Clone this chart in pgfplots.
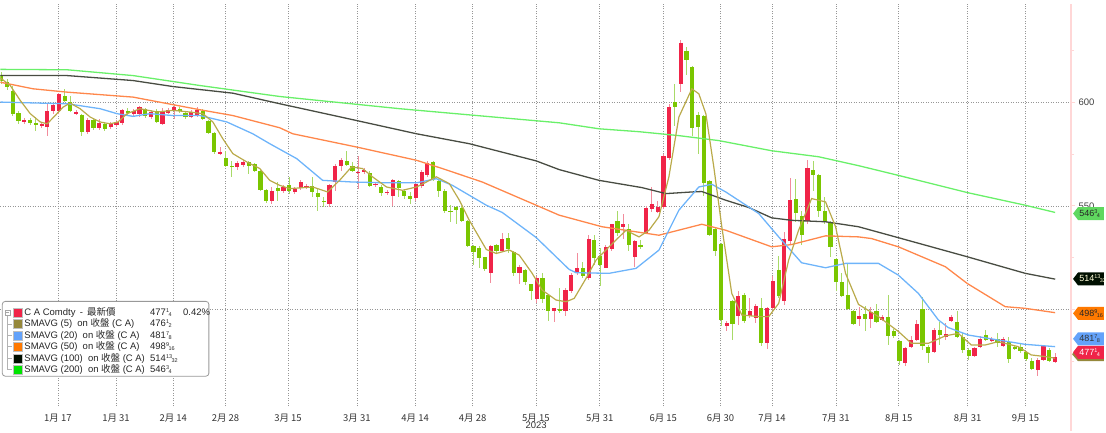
\documentclass[border=0pt]{standalone}
\usepackage{fontspec}
\setmainfont{Liberation Sans}
\newfontfamily\cjk{Noto Sans CJK TC}
\usepackage{pgfplots}
\usepackage{pgfplotstable}
\pgfplotsset{compat=1.18}

\definecolor{upbody}{RGB}{240,36,72}
\definecolor{upwick}{RGB}{242,140,156}
\definecolor{dnbody}{RGB}{122,198,0}
\definecolor{dnwick}{RGB}{168,218,104}
\definecolor{ma5}{RGB}{186,170,74}
\definecolor{ma20}{RGB}{110,180,250}
\definecolor{ma50}{RGB}{255,135,75}
\definecolor{ma100}{RGB}{72,76,66}
\definecolor{ma200}{RGB}{105,240,105}
\definecolor{gridc}{RGB}{150,150,150}
\definecolor{axisc}{RGB}{255,215,215}

% small stacked fraction, as in the quoted prices
\newcommand\fr[2]{\raisebox{0.6ex}{\fontsize{5.5}{5}\selectfont#1}\kern-0.05em\raisebox{-0.2ex}{\fontsize{5.5}{5}\selectfont#2}}

% daily candles: open high low close
\pgfplotstableread{
k o h l c
1 613.3 614.7 608.9 610.4
2 609.9 611.3 606.0 607.5
3 605.5 608.0 593.5 594.5
4 594.9 595.9 589.6 591.1
5 590.6 592.5 589.6 591.6
6 591.6 592.5 589.2 590.1
7 590.1 593.0 586.3 589.2
8 588.7 590.6 587.7 589.6
9 588.2 599.3 583.9 595.9
10 595.9 599.8 594.5 598.8
11 595.9 604.6 594.5 604.1
12 603.1 606.5 600.2 600.7
13 600.2 603.1 595.4 595.9
14 594.5 596.4 594.0 595.4
15 594.0 594.5 583.9 585.8
16 585.8 592.5 584.8 591.6
17 591.6 592.5 586.7 587.7
18 587.7 592.1 586.7 590.1
19 589.6 590.6 586.3 587.2
20 588.2 590.6 587.2 589.6
21 589.2 591.6 588.2 590.6
22 590.1 596.9 589.2 596.4
23 595.9 597.4 593.5 594.9
24 594.5 596.9 593.5 595.9
25 594.5 598.3 593.0 597.8
26 596.9 597.4 592.5 593.5
27 593.0 596.4 592.1 595.4
28 595.9 596.9 590.1 590.6
29 589.6 597.4 589.2 595.9
30 594.9 597.4 594.5 596.4
31 595.9 599.3 592.1 597.8
32 596.9 597.8 594.9 595.9
33 594.9 595.9 592.1 593.0
34 593.0 596.4 592.5 595.4
35 594.0 597.8 593.0 596.4
36 595.9 596.9 591.6 592.1
37 591.1 591.6 584.8 585.3
38 585.3 585.8 575.2 576.1
39 575.2 578.6 574.7 576.1
40 573.3 576.6 568.9 569.4
41 569.4 571.8 564.1 568.9
42 568.9 571.8 567.5 570.8
43 569.9 572.3 568.9 571.3
44 571.3 571.8 565.5 569.4
45 570.4 570.8 566.5 567.0
46 567.0 567.5 557.4 557.8
47 557.8 558.3 551.6 552.5
48 552.5 559.3 551.1 557.4
49 558.8 561.7 552.5 557.4
50 557.4 560.2 556.4 559.3
51 560.2 564.1 555.9 557.4
52 556.9 559.3 555.9 558.3
53 558.8 562.7 557.8 561.7
54 559.3 560.7 558.3 559.8
55 559.8 564.1 554.5 556.9
56 556.4 558.3 547.7 554.5
57 552.5 554.5 549.6 552.1
58 551.1 560.7 549.6 560.2
59 561.7 570.4 557.4 569.4
60 569.4 573.3 567.0 572.3
61 571.8 576.6 569.4 569.9
62 569.4 571.3 566.5 567.0
63 566.0 574.2 558.3 566.5
64 566.5 568.4 565.5 567.5
65 566.0 567.0 559.3 559.8
66 560.2 561.7 559.3 560.7
67 559.3 560.2 554.9 556.4
68 556.4 557.8 555.4 556.9
69 554.9 563.1 550.1 562.7
70 562.2 562.7 554.5 558.8
71 557.4 558.3 553.5 554.9
72 554.9 556.9 551.1 553.5
73 554.0 561.7 552.1 560.7
74 559.8 567.5 558.8 566.5
75 565.1 571.8 564.1 570.8
76 571.3 571.8 562.2 563.1
77 562.2 563.1 554.5 557.4
78 557.4 557.9 546.7 547.7
79 547.7 550.6 542.4 547.2
80 549.6 550.1 541.4 548.2
81 549.2 550.1 542.4 542.9
82 542.9 543.4 529.9 530.4
83 530.4 530.9 521.2 527.5
84 529.4 530.4 520.2 524.6
85 525.1 525.5 518.3 519.3
86 517.8 530.9 512.5 530.4
87 530.9 531.8 527.0 528.0
88 528.0 537.1 527.5 534.2
89 534.7 537.1 527.0 529.4
90 527.5 528.0 515.9 517.8
91 517.8 521.2 512.1 520.7
92 518.8 519.3 511.6 513.0
93 512.1 512.5 504.3 508.7
94 504.8 515.9 502.9 515.0
95 515.0 517.8 502.9 504.8
96 506.8 507.3 494.2 499.0
97 499.0 500.8 493.7 500.5
98 500.0 510.1 498.1 499.5
99 499.0 510.1 496.6 509.2
100 508.7 517.4 507.7 516.4
101 517.4 527.0 516.4 519.8
102 519.8 523.1 515.0 515.9
103 515.0 535.7 514.0 534.2
104 533.7 536.1 521.2 524.6
105 526.0 529.4 511.1 521.2
106 520.2 530.9 519.8 529.9
107 529.4 541.4 528.4 541.0
108 542.9 547.7 535.2 537.1
109 540.0 546.3 534.2 541.0
110 538.6 541.4 528.0 530.9
111 525.5 533.3 520.7 532.8
112 531.3 533.7 529.4 530.4
113 537.1 550.1 536.6 549.2
114 548.7 559.3 547.2 551.1
115 547.2 552.1 546.3 549.6
116 549.6 575.2 548.7 574.2
117 573.3 599.3 572.3 597.8
118 600.2 608.9 588.7 597.8
119 608.9 630.1 605.1 628.7
120 624.8 626.7 613.3 620.5
121 617.1 617.6 583.9 587.7
122 594.0 595.4 575.2 588.2
123 593.5 594.0 554.9 561.2
124 562.2 562.7 535.2 536.1
125 539.0 539.5 526.0 528.4
126 531.8 532.3 491.8 494.7
127 491.8 494.2 489.4 493.3
128 503.9 504.3 485.1 492.8
129 496.6 508.7 492.3 506.3
130 506.8 507.7 493.3 494.2
131 496.6 505.3 495.7 499.0
132 495.7 502.4 493.3 501.4
133 500.5 505.3 482.2 483.6
134 483.6 501.0 480.7 500.5
135 500.5 515.9 499.5 513.5
136 518.8 526.0 505.3 506.3
137 503.9 537.6 501.9 534.2
138 532.8 563.6 531.8 553.0
139 553.5 563.1 542.4 546.3
140 545.3 547.7 530.9 535.7
141 542.9 572.3 541.4 568.4
142 567.5 571.8 557.4 565.1
143 565.1 565.5 544.8 547.7
144 547.7 554.5 541.4 542.4
145 542.4 542.9 525.5 529.9
146 524.1 524.6 508.7 513.0
147 513.0 517.4 505.8 506.3
148 506.8 522.2 499.5 500.0
149 499.0 499.5 492.3 492.8
150 495.2 501.0 491.8 496.6
151 497.6 501.4 489.4 495.2
152 495.2 501.0 490.9 498.6
153 499.0 502.4 493.3 493.7
154 494.7 497.1 494.2 496.1
155 496.1 506.8 482.7 487.0
156 489.4 490.4 486.0 487.0
157 484.6 485.1 473.0 475.0
158 474.0 481.7 472.5 481.2
159 481.7 487.0 481.2 485.1
160 485.1 494.7 484.6 492.8
161 500.0 505.8 480.3 482.2
162 481.7 482.7 474.0 478.8
163 479.3 490.9 478.8 489.9
164 489.9 493.7 482.7 487.5
165 486.5 493.3 485.1 488.0
166 494.2 497.1 493.7 496.1
167 493.7 499.0 486.0 486.5
168 486.5 488.4 478.8 480.3
169 480.3 481.2 475.4 477.4
170 477.4 481.7 476.9 481.2
171 481.7 487.0 481.2 485.6
172 487.5 489.9 484.6 485.1
173 484.6 486.5 484.1 485.6
174 485.6 488.4 481.7 483.6
175 482.2 486.5 481.7 485.6
176 484.1 486.5 474.0 475.9
177 481.7 482.2 480.3 480.7
178 481.7 483.6 478.8 479.8
179 479.3 479.8 475.0 475.9
180 475.0 476.4 470.6 471.1
181 470.6 476.4 467.7 475.4
182 475.4 482.7 475.0 482.2
183 480.3 481.2 474.5 475.0
184 474.5 478.8 474.0 476.9
}\candles

\pgfplotstableread{
k v
0.83 611.8
2.56 608.1
4.29 600.9
6.03 594.5
7.76 590.5
8.97 589.6
10.36 593.6
11.75 597.7
12.96 599.6
14.69 596.9
16.42 592.9
18.16 590.5
19.89 589.6
21.28 590.5
22.84 594.5
25.09 596.9
28.04 595.3
30.81 596.1
33.76 595.3
36.01 594.5
37.74 590.5
39.47 582.4
41.21 575.2
43.63 571.2
45.89 568.0
47.62 562.3
49.35 559.9
51.09 558.3
55.07 559.1
57.67 556.7
59.75 562.3
61.83 568.8
63.74 568.0
65.47 564.0
67.90 559.1
70.67 557.5
73.10 559.1
74.83 561.5
76.56 564.0
78.82 560.7
80.55 552.7
82.28 543.0
85.23 528.9
86.96 527.0
89.21 528.7
90.95 526.2
93.20 517.4
94.93 509.3
97.36 504.5
99.09 503.7
100.5 505.3
102.56 515.0
104.29 523.8
106.55 530.2
109.49 538.2
111.75 535.0
113.48 538.2
115.21 544.7
116.94 564.0
118.68 592.9
120.93 606.5
122.14 604.1
123.36 594.5
124.74 568.8
126.13 539.9
127.86 507.7
129.60 497.3
132.54 496.5
134.27 496.5
136.01 502.9
137.74 523.8
139.47 538.2
141.73 553.5
144.15 551.9
145.89 539.9
147.62 517.4
149.87 502.4
153.34 496.5
156.81 489.3
159.06 483.6
162.01 483.6
164.95 487.2
167.20 488.4
169.46 482.8
171.88 482.8
174.14 484.4
177.60 482.0
179.86 478.0
182.28 477.2
184.02 476.4
}\smafive

\pgfplotstableread{
k v
0.83 600.1
7.76 599.6
12.44 599.3
18.16 596.9
21.10 594.5
23.88 593.2
26.82 594.5
30.81 593.6
35.49 593.6
40.17 590.5
44.67 584.8
47.62 580.0
52.30 572.8
56.81 562.3
62.00 561.5
67.90 561.1
73.10 561.1
76.56 563.1
79.34 559.9
82.28 555.1
85.23 550.3
88.00 546.8
93.89 534.7
99.61 519.3
100.83 517.7
106.55 517.4
111.23 519.8
115.21 528.6
118.68 547.9
122.14 559.1
124.40 560.4
126.82 556.7
132.54 546.3
136.01 535.0
139.99 522.5
144.15 520.1
147.62 522.2
153.34 522.2
156.81 516.5
160.27 507.7
163.74 494.9
165.47 491.2
168.94 487.6
174.14 485.2
178.82 483.1
184.02 482.0
}\smatwenty

\pgfplotstableread{
k v
0.83 609.7
6.55 606.5
12.44 604.9
23.88 602.5
35.49 596.4
41.21 593.6
49.35 587.7
51.61 584.8
62.70 578.4
73.10 572.0
77.60 568.0
84.53 561.5
93.89 550.3
97.88 545.5
105.33 539.9
115.21 535.8
122.66 541.1
126.82 538.2
134.79 530.2
138.26 531.3
144.15 535.5
149.87 535.0
152.13 534.2
156.81 530.2
164.95 520.6
168.76 512.5
175.35 501.3
178.82 500.5
184.02 498.4
}\smafifty

\pgfplotstableread{
k v
0.83 612.9
12.44 612.9
23.88 610.5
30.81 607.6
41.21 604.4
49.35 599.3
59.75 593.0
73.10 584.8
82.28 580.0
93.89 571.7
97.88 567.5
104.81 562.3
112.27 558.8
116.42 555.9
120.93 556.7
122.66 556.9
126.82 552.7
130.81 549.2
134.79 544.2
138.26 543.0
144.15 542.3
149.87 539.9
156.81 534.6
168.76 525.4
178.82 517.4
184.02 514.6
}\smahundred

\pgfplotstableread{
k v
0.83 615.9
12.44 615.7
23.88 612.9
35.49 608.1
49.35 602.8
70.2 596.9
84.0 593.5
97.88 590.1
104.81 587.2
111.75 585.8
118.68 583.9
125.61 581.5
134.79 576.6
142.94 573.7
149.87 569.4
156.81 564.7
168.76 556.4
178.82 550.3
184.02 546.8
}\smatwohundred

\begin{document}
\begin{tikzpicture}[x=1pt,y=1pt]
\begin{axis}[
  at={(0,0)}, anchor=south west,
  width=1073pt, height=403pt, scale only axis,
  xmin=0.827, xmax=186.79, ymin=453.26, ymax=647.47,
  axis line style={draw=none},
  xtick={10.83,20.93,30.86,39.94,50.79,62.75,72.87,82.85,93.84,104.93,115.96,125.90,134.85,145.94,156.86,168.82,178.87},
  xticklabels={1月 17,1月 31,2月 14,2月 28,3月 15,3月 31,4月 14,4月 28,5月 15,5月 31,6月 15,6月 30,7月 14,7月 31,8月 15,8月 31,9月 15},
  xtick style={draw=none},
  xticklabel style={font=\cjk\fontsize{9.5}{10}\selectfont, text=black!80},
  ytick={500,550,600}, yticklabels={{},550,600},
  minor ytick={475,525,575,625},
  ytick pos=right, yticklabel pos=right,
  ytick style={draw=axisc, line width=1pt},
  tick align=outside, major tick length=4pt, minor tick length=3pt,
  yticklabel style={font=\fontsize{9.5}{10}\selectfont, text=black!75},
  /pgf/number format/assume math mode=true,
  grid=major,
  major grid style={draw=gridc, line width=0.6pt, dash pattern=on 1pt off 1.5pt},
  candle/.style={draw=none, mark=none, forget plot},
]
% wicks
\addplot[candle,
  restrict expr to domain={\thisrow{c}-\thisrow{o}}{0:1000},
  error bars/.cd, y dir=both, y explicit, error mark=none,
  error bar style={line width=1pt, draw=upwick}]
  table[x=k, y expr={(\thisrow{h}+\thisrow{l})/2}, y error expr={(\thisrow{h}-\thisrow{l})/2}] {\candles};
\addplot[candle,
  restrict expr to domain={\thisrow{o}-\thisrow{c}}{0:1000},
  error bars/.cd, y dir=both, y explicit, error mark=none,
  error bar style={line width=1pt, draw=dnwick}]
  table[x=k, y expr={(\thisrow{h}+\thisrow{l})/2}, y error expr={(\thisrow{h}-\thisrow{l})/2}] {\candles};
% bodies
\addplot[candle,
  restrict expr to domain={\thisrow{c}-\thisrow{o}}{0:1000},
  error bars/.cd, y dir=both, y explicit, error mark=none,
  error bar style={line width=4.2pt, draw=upbody}]
  table[x=k, y expr={(\thisrow{o}+\thisrow{c})/2}, y error expr={abs(\thisrow{c}-\thisrow{o})/2}] {\candles};
\addplot[candle,
  restrict expr to domain={\thisrow{o}-\thisrow{c}}{0:1000},
  error bars/.cd, y dir=both, y explicit, error mark=none,
  error bar style={line width=4.2pt, draw=dnbody}]
  table[x=k, y expr={(\thisrow{o}+\thisrow{c})/2}, y error expr={abs(\thisrow{c}-\thisrow{o})/2}] {\candles};
% moving averages
\addplot[ma200, line width=1.3pt, no markers] table[x=k, y=v] {\smatwohundred};
\addplot[ma100, line width=1.3pt, no markers] table[x=k, y=v] {\smahundred};
\addplot[ma50, line width=1.3pt, no markers] table[x=k, y=v] {\smafifty};
\addplot[ma20, line width=1.3pt, no markers] table[x=k, y=v] {\smatwenty};
\addplot[ma5, line width=1.2pt, no markers] table[x=k, y=v] {\smafive};
\end{axis}

% right axis line
\draw[axisc, line width=2pt] (1073,-25) -- (1073,403);
\node[font=\fontsize{9.5}{10}\selectfont, text=black!80] at (537,-19) {2023};

% price tags on the right
\def\tag#1#2#3#4{%
  \fill[#2] (1075,#1) -- (1080,#1+6.5) -- (1105.8,#1+6.5) -- (1105.8,#1-6.5) -- (1080,#1-6.5) -- cycle;
  \node[font=\fontsize{9}{10}\selectfont, text=#3, anchor=west, inner sep=0pt] at (1081,#1) {#4};}
\tag{193}{ma200!90!black}{black!85}{546\fr34}
\tag{127.5}{black!85!green!40!black}{white!85!yellow}{514\fr{13}{32}}
\tag{93}{orange!95!red}{black!85}{498\fr{9}{16}}
\tag{67.5}{ma20!90!blue}{black!80}{481\fr78}
\fill[ma5!80!black] (1074,52) -- (1080,59) -- (1105.8,59) -- (1105.8,45) -- (1080,45) -- cycle;
\tag{54}{upbody}{white}{477\fr14}

% legend
\draw[gray!80, fill=white, rounded corners=3pt, line width=0.8pt] (2,30) rectangle (209,105);
\draw[gray!60, line width=0.6pt] (7,91.5) -- (7,36.5);
\foreach \yy in {82.5,71,59.5,48,36.5} \draw[gray!60, line width=0.6pt] (7,\yy) -- (12,\yy);
\draw[gray!70, fill=white, line width=0.5pt] (4.5,91.5) rectangle (9.5,96.5);
\draw[gray!70, line width=0.5pt] (5.5,94) -- (8.5,94);
\foreach \yy/\cc in {94/upbody, 82.5/ma5!80!black, 71/ma20!90!blue, 59.5/orange!95!red, 48/black!85!green!40!black, 36.5/green!90!black} {
  \fill[\cc] (12.5,\yy-4.5) rectangle (21.5,\yy+4.5);
  \draw[gray!50, line width=0.3pt] (12.5,\yy-4.5) rectangle (21.5,\yy+4.5);
}
\begin{scope}[every node/.style={anchor=west, inner sep=0pt, font=\fontsize{9.5}{10}\selectfont, text=black!85}]
\node at (24,94) {C A Comdty \,-\, {\cjk 最新價}};
\node at (24,82.5) {SMAVG (5)\ \ on {\cjk 收盤} (C A)};
\node at (24,71) {SMAVG (20)\ \ on {\cjk 收盤} (C A)};
\node at (24,59.5) {SMAVG (50)\ \ on {\cjk 收盤} (C A)};
\node at (24,48) {SMAVG (100)\ \ on {\cjk 收盤} (C A)};
\node at (24,36.5) {SMAVG (200)\ \ on {\cjk 收盤} (C A)};
\node at (150,94) {477\fr14};
\node at (150,82.5) {476\fr12};
\node at (150,71) {481\fr78};
\node at (150,59.5) {498\fr{9}{16}};
\node at (150,48) {514\fr{13}{32}};
\node at (150,36.5) {546\fr34};
\node at (183,94) {0.42\%};
\end{scope}

\path (0,-25) rectangle (1106,403);
\end{tikzpicture}
\end{document}
